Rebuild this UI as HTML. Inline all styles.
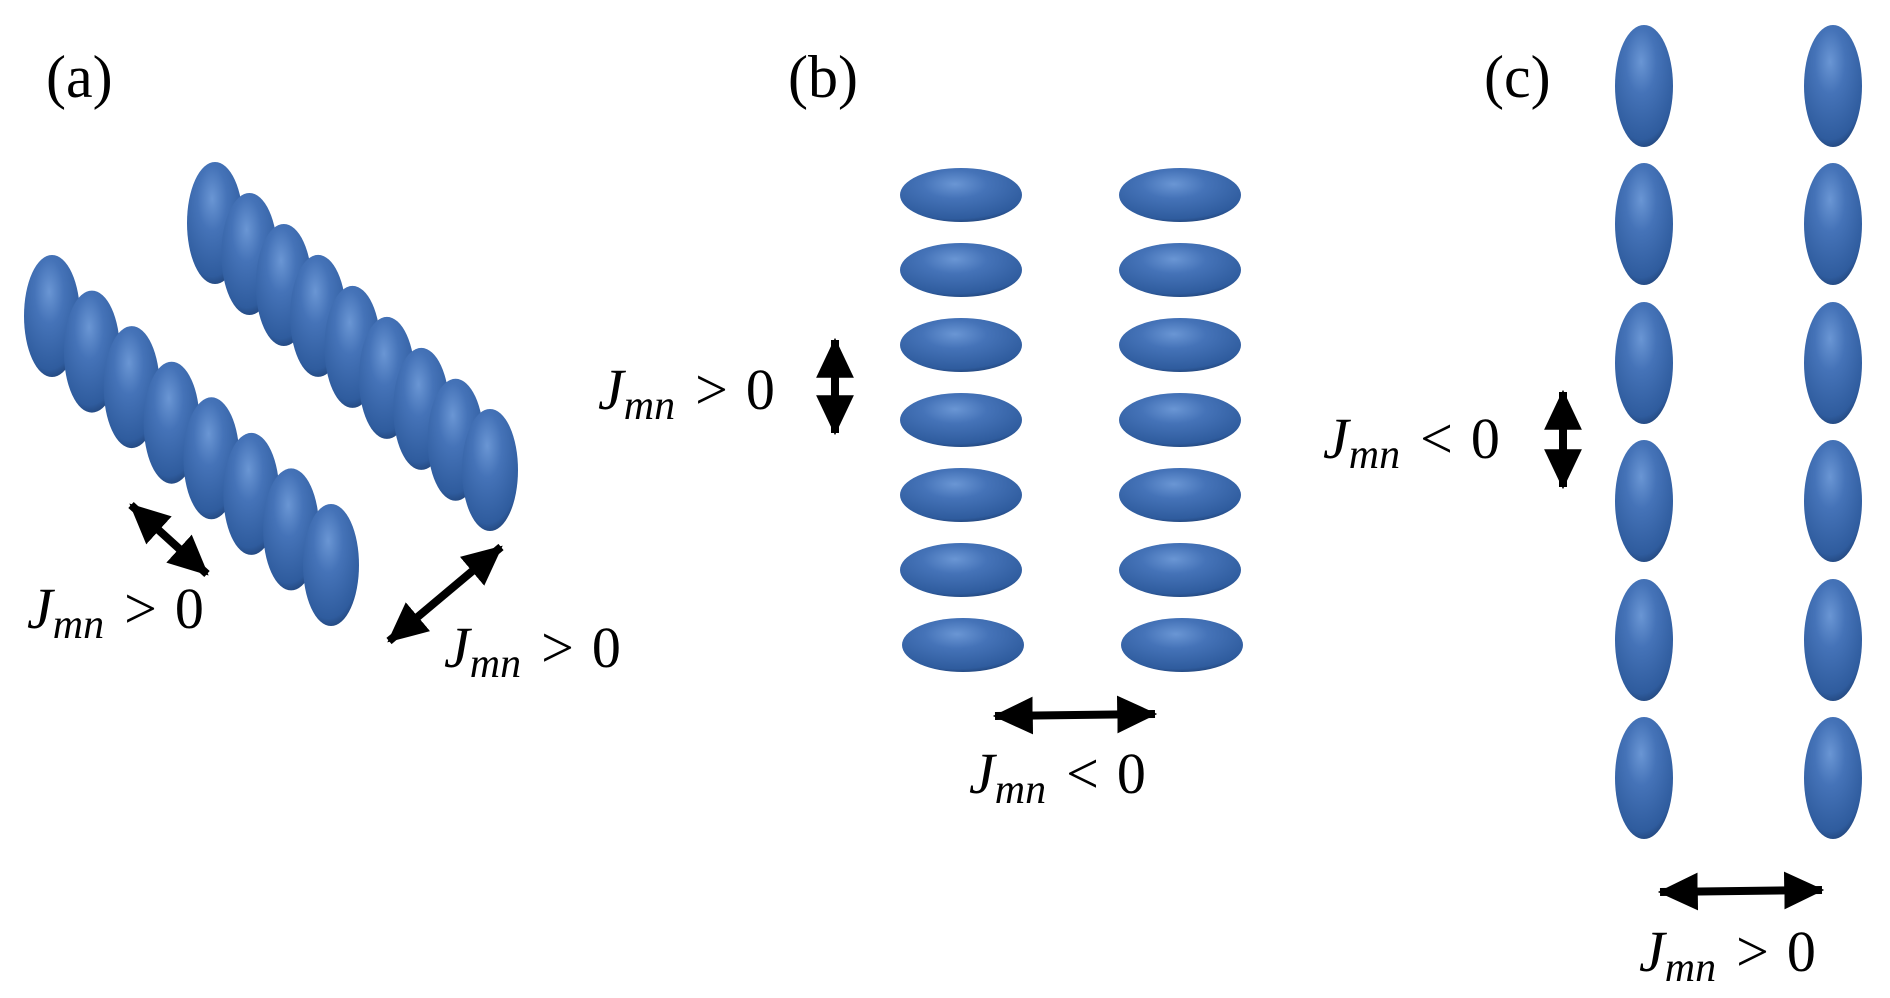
<!DOCTYPE html>
<html><head><meta charset="utf-8"><style>
html,body{margin:0;padding:0;background:#fff;}
svg text{font-family:"Liberation Serif",serif;}
</style></head><body>
<svg width="1890" height="993" viewBox="0 0 1890 993" xmlns="http://www.w3.org/2000/svg">
<defs>
<radialGradient id="g" cx="0.45" cy="0.3" r="0.75">
<stop offset="0" stop-color="#6a96d4"/>
<stop offset="0.35" stop-color="#4573b8"/>
<stop offset="0.85" stop-color="#2f5c9e"/>
<stop offset="1" stop-color="#1e3f72"/>
</radialGradient>
<marker id="ah" markerUnits="userSpaceOnUse" markerWidth="40" markerHeight="40" refX="34" refY="17" orient="auto-start-reverse" viewBox="0 0 36 34">
<path d="M0,0 L36,17 L0,34 Z" fill="#000"/>
</marker>
</defs>
<rect width="1890" height="993" fill="#fff"/>

<g font-size="60">
<text x="46" y="97">(a)</text>
<text x="788" y="97">(b)</text>
<text x="1484" y="97">(c)</text>
</g>

<g fill="url(#g)">
<ellipse cx="215" cy="223" rx="28" ry="61"/>
<ellipse cx="249.4" cy="254" rx="28" ry="61"/>
<ellipse cx="283.8" cy="285" rx="28" ry="61"/>
<ellipse cx="318.1" cy="315.9" rx="28" ry="61"/>
<ellipse cx="352.5" cy="346.9" rx="28" ry="61"/>
<ellipse cx="386.9" cy="377.9" rx="28" ry="61"/>
<ellipse cx="421.3" cy="408.9" rx="28" ry="61"/>
<ellipse cx="455.6" cy="439.8" rx="28" ry="61"/>
<ellipse cx="490" cy="470" rx="28" ry="61"/>
<ellipse cx="52" cy="316" rx="28" ry="61"/>
<ellipse cx="91.9" cy="351.6" rx="28" ry="61"/>
<ellipse cx="131.7" cy="387.1" rx="28" ry="61"/>
<ellipse cx="171.6" cy="422.7" rx="28" ry="61"/>
<ellipse cx="211.4" cy="458.3" rx="28" ry="61"/>
<ellipse cx="251.3" cy="493.9" rx="28" ry="61"/>
<ellipse cx="291.1" cy="529.4" rx="28" ry="61"/>
<ellipse cx="331" cy="565" rx="28" ry="61"/>
</g>

<g fill="url(#g)">
<ellipse cx="961" cy="195" rx="61" ry="27"/><ellipse cx="1180" cy="195" rx="61" ry="27"/>
<ellipse cx="961" cy="270" rx="61" ry="27"/><ellipse cx="1180" cy="270" rx="61" ry="27"/>
<ellipse cx="961" cy="345" rx="61" ry="27"/><ellipse cx="1180" cy="345" rx="61" ry="27"/>
<ellipse cx="961" cy="420" rx="61" ry="27"/><ellipse cx="1180" cy="420" rx="61" ry="27"/>
<ellipse cx="961" cy="495" rx="61" ry="27"/><ellipse cx="1180" cy="495" rx="61" ry="27"/>
<ellipse cx="961" cy="570" rx="61" ry="27"/><ellipse cx="1180" cy="570" rx="61" ry="27"/>
<ellipse cx="963" cy="645" rx="61" ry="27"/><ellipse cx="1182" cy="645" rx="61" ry="27"/>
</g>

<g fill="url(#g)">
<ellipse cx="1644" cy="86" rx="29" ry="61"/><ellipse cx="1833" cy="86" rx="29" ry="61"/>
<ellipse cx="1644" cy="224" rx="29" ry="61"/><ellipse cx="1833" cy="224" rx="29" ry="61"/>
<ellipse cx="1644" cy="363" rx="29" ry="61"/><ellipse cx="1833" cy="363" rx="29" ry="61"/>
<ellipse cx="1644" cy="501" rx="29" ry="61"/><ellipse cx="1833" cy="501" rx="29" ry="61"/>
<ellipse cx="1644" cy="640" rx="29" ry="61"/><ellipse cx="1833" cy="640" rx="29" ry="61"/>
<ellipse cx="1644" cy="778" rx="29" ry="61"/><ellipse cx="1833" cy="778" rx="29" ry="61"/>
</g>

<g stroke="#000" stroke-width="8" fill="none" marker-start="url(#ah)" marker-end="url(#ah)">
<line x1="131" y1="505" x2="207" y2="574"/>
<line x1="389" y1="641" x2="501" y2="547"/>
<line x1="835" y1="340" x2="835" y2="433"/>
<line x1="995" y1="716" x2="1155" y2="714"/>
<line x1="1563" y1="392" x2="1563" y2="487"/>
<line x1="1660" y1="892" x2="1822" y2="890"/>
</g>

<g font-size="58">
<text x="27" y="628"><tspan font-style="italic">J</tspan><tspan font-style="italic" font-size="42" dy="10">mn</tspan><tspan dy="-10" dx="20">&gt;</tspan><tspan dx="18">0</tspan></text>
<text x="444" y="667"><tspan font-style="italic">J</tspan><tspan font-style="italic" font-size="42" dy="10">mn</tspan><tspan dy="-10" dx="20">&gt;</tspan><tspan dx="18">0</tspan></text>
<text x="598" y="409"><tspan font-style="italic">J</tspan><tspan font-style="italic" font-size="42" dy="10">mn</tspan><tspan dy="-10" dx="20">&gt;</tspan><tspan dx="18">0</tspan></text>
<text x="969" y="793"><tspan font-style="italic">J</tspan><tspan font-style="italic" font-size="42" dy="10">mn</tspan><tspan dy="-10" dx="20">&lt;</tspan><tspan dx="18">0</tspan></text>
<text x="1323" y="458"><tspan font-style="italic">J</tspan><tspan font-style="italic" font-size="42" dy="10">mn</tspan><tspan dy="-10" dx="20">&lt;</tspan><tspan dx="18">0</tspan></text>
<text x="1639" y="971"><tspan font-style="italic">J</tspan><tspan font-style="italic" font-size="42" dy="10">mn</tspan><tspan dy="-10" dx="20">&gt;</tspan><tspan dx="18">0</tspan></text>
</g>
</svg>
</body></html>
